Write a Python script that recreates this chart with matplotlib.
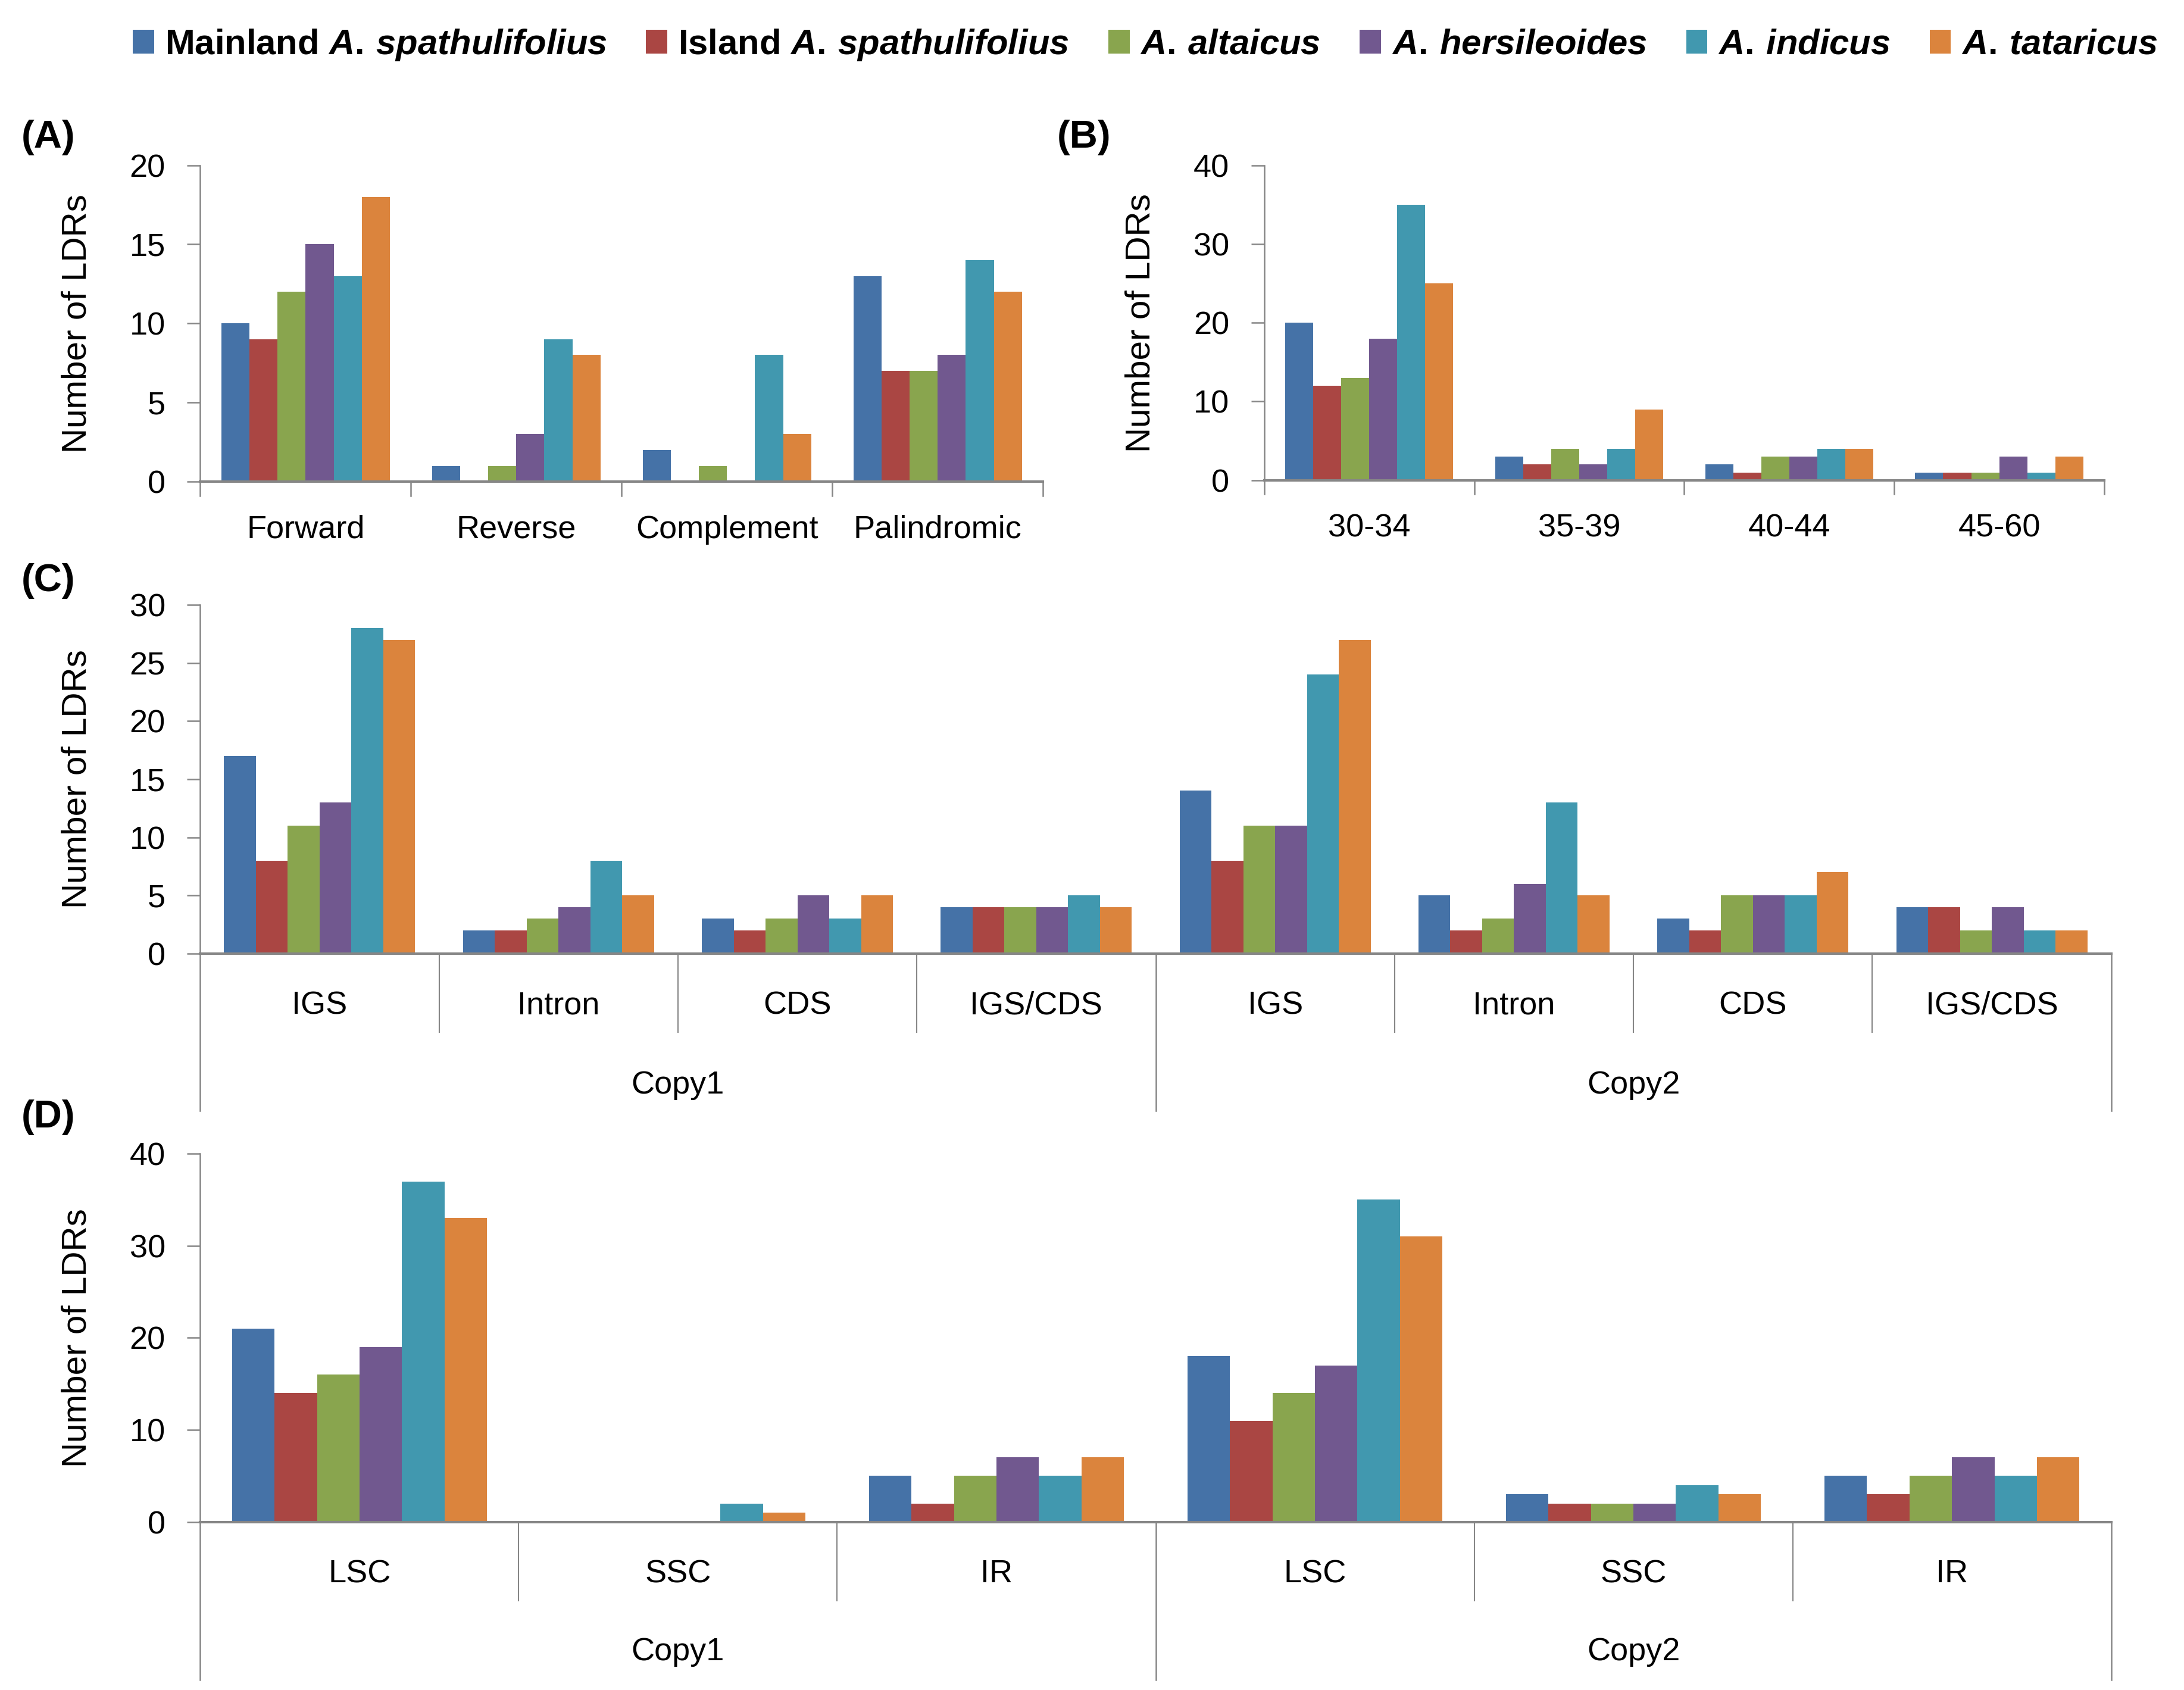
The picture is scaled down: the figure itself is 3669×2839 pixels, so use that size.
import matplotlib
matplotlib.use("Agg")
import matplotlib.pyplot as plt
from matplotlib.patches import Patch

plt.rcParams['font.family'] = ['Liberation Sans', 'DejaVu Sans']
plt.rcParams['mathtext.fontset'] = 'custom'
plt.rcParams['mathtext.it'] = 'Liberation Sans:italic:bold'
plt.rcParams['mathtext.rm'] = 'Liberation Sans:bold'

# species and colours (Excel 2007 palette)
species = [r"Mainland $\it{A.\,spathulifolius}$",
           r"Island $\it{A.\,spathulifolius}$",
           r"$\it{A.\,altaicus}$",
           r"$\it{A.\,hersileoides}$",
           r"$\it{A.\,indicus}$",
           r"$\it{A.\,tataricus}$"]
colors = ['#4572A7', '#AA4643', '#89A54E', '#71588F', '#4198AF', '#DB843D']

# (A) repeat type
types_a = ['Forward', 'Reverse', 'Complement', 'Palindromic']
vals_a = [[10, 1, 2, 13],
          [9, 0, 0, 7],
          [12, 1, 1, 7],
          [15, 3, 0, 8],
          [13, 9, 8, 14],
          [18, 8, 3, 12]]

# (B) repeat length
lengths_b = ['30-34', '35-39', '40-44', '45-60']
vals_b = [[20, 3, 2, 1],
          [12, 2, 1, 1],
          [13, 4, 3, 1],
          [18, 2, 3, 3],
          [35, 4, 4, 1],
          [25, 9, 4, 3]]

# (C) location by genomic feature, Copy1 then Copy2
feat_c = ['IGS', 'Intron', 'CDS', 'IGS/CDS', 'IGS', 'Intron', 'CDS', 'IGS/CDS']
copies = ['Copy1', 'Copy2']
vals_c = [[17, 2, 3, 4, 14, 5, 3, 4],
          [8, 2, 2, 4, 8, 2, 2, 4],
          [11, 3, 3, 4, 11, 3, 5, 2],
          [13, 4, 5, 4, 11, 6, 5, 4],
          [28, 8, 3, 5, 24, 13, 5, 2],
          [27, 5, 5, 4, 27, 5, 7, 2]]

# (D) location by region, Copy1 then Copy2
reg_d = ['LSC', 'SSC', 'IR', 'LSC', 'SSC', 'IR']
vals_d = [[21, 0, 5, 18, 3, 5],
          [14, 0, 2, 11, 2, 3],
          [16, 0, 5, 14, 2, 5],
          [19, 0, 7, 17, 2, 7],
          [37, 2, 5, 35, 4, 5],
          [33, 1, 7, 31, 3, 7]]

FW, FH = 36.69, 28.39
W, H = 1560.0, 1207.0   # layout worked out on a 1560 px wide copy
GRAY = '#868686'
FS = 39


def rect(left, top, right, bottom):
    return [left / W, 1 - bottom / H, (right - left) / W, (bottom - top) / H]


def pts_to_frac(ax, pts):
    return pts / (ax.get_position().height * FH * 72)


def bar_panel(ax, vals, ymax, ystep):
    n = len(vals[0])
    w = 0.8 / len(vals)
    for k, series in enumerate(vals):
        xs = [i - 0.4 + w * (k + 0.5) for i in range(n)]
        ax.bar(xs, series, width=w, color=colors[k], linewidth=0)
    ax.set_xlim(-0.5, n - 0.5)
    ax.set_ylim(0, ymax)
    ax.set_yticks(range(0, ymax + 1, ystep))
    ax.set_xticks([])
    for s in ['top', 'right']:
        ax.spines[s].set_visible(False)
    ax.spines['left'].set_color(GRAY)
    ax.spines['left'].set_linewidth(1.8)
    ax.spines['bottom'].set_color(GRAY)
    ax.spines['bottom'].set_linewidth(3)
    ax.tick_params(axis='y', direction='out', length=16, width=1.8,
                   color=GRAY, pad=26, labelsize=FS)


def vline(ax, x, pts, lw=1.5):
    ax.plot([x, x], [0, -pts_to_frac(ax, pts)], color=GRAY, lw=lw,
            transform=ax.get_xaxis_transform(), clip_on=False)


def label(ax, x, txt, pts):
    ax.annotate(txt, xy=(x, 0), xycoords=ax.get_xaxis_transform(),
                xytext=(0, -pts), textcoords='offset points',
                ha='center', va='center', fontsize=FS)


fig = plt.figure(figsize=(FW, FH), dpi=100)

axA = fig.add_axes(rect(143, 118, 745, 344))
axB = fig.add_axes(rect(903, 118, 1503, 343))
axC = fig.add_axes(rect(143, 432, 1508, 681))
axD = fig.add_axes(rect(143, 824, 1508, 1087))

# simple panels
for ax, vals, cats, ymax, ystep in [(axA, vals_a, types_a, 20, 5),
                                    (axB, vals_b, lengths_b, 40, 10)]:
    bar_panel(ax, vals, ymax, ystep)
    for i in range(len(cats) + 1):
        vline(ax, i - 0.5, 17, lw=1.8)
    for i, c in enumerate(cats):
        label(ax, i, c, 58)

# two-level category axes
for ax, vals, cats, ymax, ystep, l_in, l_out, p_lab, p_copy in [
        (axC, vals_c, feat_c, 30, 5, 95, 190, 63, 159),
        (axD, vals_d, reg_d, 40, 10, 95, 191, 63, 157)]:
    bar_panel(ax, vals, ymax, ystep)
    n = len(cats)
    half = n // 2
    for i in range(n + 1):
        if i in (0, half, n):
            vline(ax, i - 0.5, l_out, lw=1.8)
        else:
            vline(ax, i - 0.5, l_in)
    for i, c in enumerate(cats):
        label(ax, i, c, p_lab)
    label(ax, (half - 1) / 2, copies[0], p_copy)
    label(ax, half + (half - 1) / 2, copies[1], p_copy)

# y labels and panel letters
for ax in [axA, axB, axC, axD]:
    pos = ax.get_position()
    fig.text(pos.x0 - 88 / W, pos.y0 + pos.height / 2, 'Number of LDRs',
             rotation=90, ha='center', va='center', fontsize=42)

for txt, x, y in [('(A)', 15, 98), ('(B)', 755, 98), ('(C)', 15, 415), ('(D)', 15, 798)]:
    fig.text(x / W, 1 - y / H, txt, ha='left', va='center',
             fontsize=47, fontweight='bold')

handles = [Patch(facecolor=c, edgecolor='none') for c in colors]
fig.legend(handles, species, loc='center', bbox_to_anchor=(818 / W, 1 - 32 / H),
           ncol=6, frameon=False, prop={'size': 43, 'weight': 'bold'},
           handlelength=0.6, handleheight=0.65, handletextpad=0.3,
           columnspacing=1.1, borderaxespad=0)

fig.savefig('out.png', dpi=100)
